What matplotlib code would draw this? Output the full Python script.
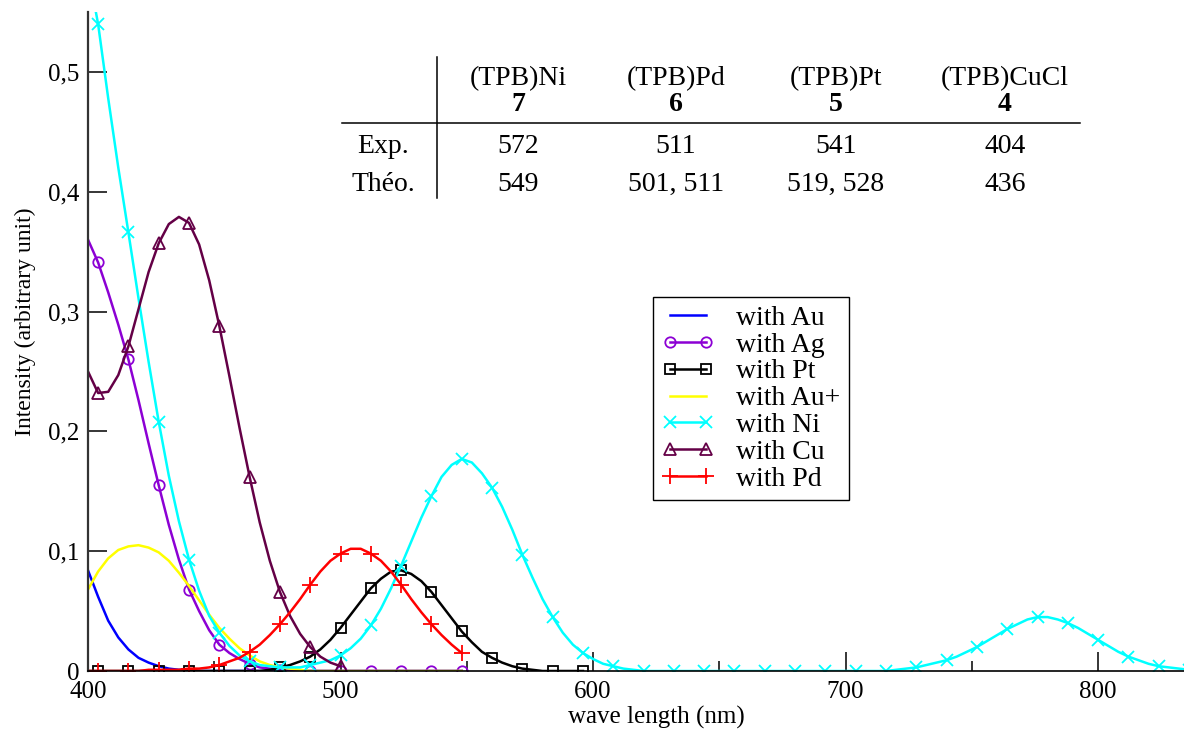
import numpy as np
import matplotlib
matplotlib.use("Agg")
import matplotlib.pyplot as plt
from matplotlib.lines import Line2D

plt.rcParams["font.family"] = ["Liberation Serif", "DejaVu Serif"]

W, H = 1184, 731

# wavelength grid (nm), 4 nm step; markers sit on every 3rd point from 404 nm
wl = np.arange(400, 840, 4)

au = [0.084, 0.062, 0.042, 0.028, 0.018, 0.011, 0.007, 0.004, 0.002, 0.001,
      0.001] + [0.0] * 27

ag = [0.360, 0.341, 0.316, 0.289, 0.260, 0.226, 0.190, 0.155, 0.122, 0.093,
      0.068, 0.050, 0.034, 0.022, 0.015, 0.010, 0.006, 0.003, 0.002, 0.001] + [0.0] * 18

pt = [0.0] * 18 + [0.001, 0.003, 0.005, 0.008, 0.012, 0.018, 0.026, 0.036, 0.047,
                   0.058, 0.069, 0.077, 0.083, 0.084, 0.081, 0.075, 0.066, 0.055,
                   0.044, 0.033, 0.024, 0.016, 0.011, 0.007, 0.004, 0.002, 0.001] + [0.0] * 5

au_plus = [0.068, 0.083, 0.094, 0.101, 0.104, 0.105, 0.103, 0.099, 0.092, 0.082,
           0.071, 0.059, 0.047, 0.036, 0.027, 0.019, 0.013, 0.008, 0.005, 0.003,
           0.002, 0.001] + [0.0] * 16

ni = [0.585, 0.540, 0.478, 0.420, 0.366, 0.311, 0.258, 0.208, 0.163, 0.125,
      0.093, 0.067, 0.046, 0.032, 0.021, 0.013, 0.008, 0.005, 0.004, 0.003,
      0.003, 0.003, 0.005, 0.007, 0.009, 0.013, 0.019, 0.027, 0.038, 0.052,
      0.069, 0.088, 0.108, 0.128, 0.146, 0.162, 0.172, 0.177, 0.174, 0.165,
      0.153, 0.137, 0.118, 0.097, 0.078, 0.060, 0.045, 0.032, 0.022, 0.015,
      0.010, 0.006, 0.004, 0.002, 0.001] + [0.0] * 25 + [
      0.001, 0.002, 0.003, 0.005, 0.007, 0.009, 0.012, 0.016, 0.020, 0.025,
      0.030, 0.035, 0.039, 0.043, 0.045, 0.045, 0.043, 0.040, 0.036, 0.031,
      0.026, 0.021, 0.016, 0.012, 0.009, 0.006, 0.004, 0.003, 0.002, 0.001]

cu = [0.250, 0.232, 0.233, 0.247, 0.271, 0.302, 0.333, 0.357, 0.373, 0.379,
      0.374, 0.356, 0.326, 0.288, 0.246, 0.203, 0.162, 0.124, 0.092, 0.066,
      0.046, 0.031, 0.020, 0.012, 0.007, 0.004]

pd_ = [0.0, 0.0, 0.0, 0.0, 0.0, 0.0, 0.001, 0.001, 0.001, 0.001,
       0.002, 0.002, 0.003, 0.005, 0.008, 0.011, 0.016, 0.022, 0.030, 0.039,
       0.049, 0.060, 0.072, 0.083, 0.092, 0.098, 0.102, 0.102, 0.098, 0.092,
       0.083, 0.072, 0.060, 0.049, 0.039, 0.030, 0.022, 0.015]

# table content
headers = ["(TPB)Ni", "(TPB)Pd", "(TPB)Pt", "(TPB)CuCl"]
compound_ids = ["7", "6", "5", "4"]
row_labels = ["Exp.", "Théo."]
exp_vals = ["572", "511", "541", "404"]
theo_vals = ["549", "501, 511", "519, 528", "436"]

xticks = [400, 500, 600, 700, 800]
yticks = [0, 0.1, 0.2, 0.3, 0.4, 0.5]
ytick_labels = ["0", "0,1", "0,2", "0,3", "0,4", "0,5"]

series = [
    ("with Au", au, dict(color="#0000ff", marker=None)),
    ("with Ag", ag, dict(color="#8c00d4", marker="o", ms=7.5, mfc="none")),
    ("with Pt", pt, dict(color="black", marker="s", ms=7, mfc="none")),
    ("with Au+", au_plus, dict(color="#ffff00", marker=None)),
    ("with Ni", ni, dict(color="#00ffff", marker="x", ms=8)),
    ("with Cu", cu, dict(color="#640046", marker="^", ms=8, mfc="none")),
    ("with Pd", pd_, dict(color="#ff0000", marker="+", ms=11)),
]


def fx(px):
    return px / W


def fy(py):
    return 1 - py / H


fig = plt.figure(figsize=(W / 100, H / 100), dpi=100)
ax = fig.add_axes([fx(88), fy(671), (W - 88) / W, 659 / H])

for label, vals, style in series:
    ax.plot(wl[:len(vals)], vals, label=label, lw=1.8, mew=1.3,
            markevery=(1, 3), **style)

ax.set_xlim(400, 834)
ax.set_ylim(0, 0.55)
ax.set_xticks(xticks)
ax.set_xticks([450, 550, 650, 750], minor=True)
ax.set_yticks(yticks)
ax.set_yticklabels(ytick_labels)
ax.tick_params(which="major", direction="in", length=13.5, width=1.1,
               labelsize=18, color="black")
ax.tick_params(axis="x", which="major", pad=7)
ax.tick_params(axis="y", which="major", pad=6)
ax.tick_params(which="minor", direction="in", length=7, width=1.1)
ax.spines["top"].set_visible(False)
ax.spines["right"].set_visible(False)
ax.spines["left"].set_linewidth(1.6)
ax.spines["left"].set_color("#333333")
ax.spines["bottom"].set_linewidth(1.2)

fig.text(fx(656), fy(717), "wave length (nm)", fontsize=18, ha="center", va="center")
fig.text(fx(25), fy(322), "Intensity (arbitrary unit)", fontsize=17,
         ha="center", va="center", rotation=90)

leg = ax.legend(loc="upper left", bbox_to_anchor=(fx(653), fy(297)),
                bbox_transform=fig.transFigure, borderaxespad=0,
                fontsize=20, numpoints=2, handlelength=1.9, handletextpad=0.8,
                labelspacing=0.05, borderpad=0.3, fancybox=False,
                framealpha=1, edgecolor="black")
leg.get_frame().set_linewidth(1.0)

# table
col_x = [518, 676, 836, 1005]
fig.add_artist(Line2D([fx(437), fx(437)], [fy(57), fy(198)], color="black", lw=1.1))
fig.add_artist(Line2D([fx(342), fx(1080)], [fy(123), fy(123)], color="black", lw=1.1))
for cx, hd, cid, ev, tv in zip(col_x, headers, compound_ids, exp_vals, theo_vals):
    fig.text(fx(cx), fy(85), hd, fontsize=20, ha="center", va="baseline")
    fig.text(fx(cx), fy(111), cid, fontsize=20, ha="center", va="baseline",
             fontweight="bold")
    fig.text(fx(cx), fy(153), ev, fontsize=20, ha="center", va="baseline")
    fig.text(fx(cx), fy(191), tv, fontsize=20, ha="center", va="baseline")
fig.text(fx(383), fy(153), row_labels[0], fontsize=20, ha="center", va="baseline")
fig.text(fx(383), fy(191), row_labels[1], fontsize=20, ha="center", va="baseline")

fig.savefig("out.png", dpi=100)
